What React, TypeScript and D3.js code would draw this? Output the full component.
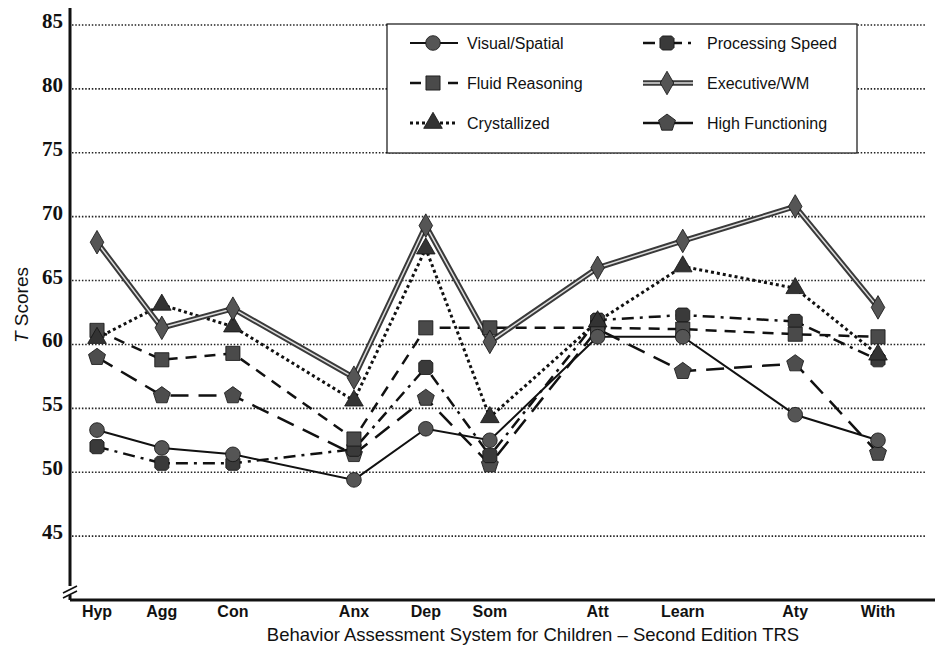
import * as d3 from 'd3'

const CATEGORIES = ['Hyp', 'Agg', 'Con', 'Anx', 'Dep', 'Som', 'Att', 'Learn', 'Aty', 'With']
// where each scale sits along the axis (0 = first, 100 = last), the spacing is uneven
const CATEGORY_SLOTS = [0, 8.3, 17.4, 32.9, 42.1, 50.3, 64.1, 75.0, 89.4, 100]
const Y_TICKS = [45, 50, 55, 60, 65, 70, 75, 80, 85]

const VISUAL_SPATIAL = [53.3, 51.9, 51.4, 49.4, 53.4, 52.5, 60.6, 60.6, 54.5, 52.5]
const FLUID_REASONING = [61.1, 58.8, 59.3, 52.6, 61.3, 61.3, 61.3, 61.2, 60.8, 60.6]
const CRYSTALLIZED = [60.5, 63.1, 61.4, 55.6, 67.5, 54.3, 61.8, 66.1, 64.4, 59.2]
const PROCESSING_SPEED = [52.0, 50.7, 50.7, 51.8, 58.2, 51.3, 61.9, 62.3, 61.8, 58.8]
const EXECUTIVE_WM = [68.0, 61.3, 62.8, 57.4, 69.3, 60.2, 66.0, 68.1, 70.8, 62.9]
const HIGH_FUNCTIONING = [59.0, 56.0, 56.0, 51.4, 55.8, 50.6, 61.2, 57.9, 58.5, 51.5]

const symbolPentagon = {
  draw(ctx: any, size: number) {
    const r = Math.sqrt(size / 2.378)
    for (let i = 0; i < 5; i++) {
      const a = -Math.PI / 2 + (i * 2 * Math.PI) / 5
      const px = r * Math.cos(a)
      const py = r * Math.sin(a)
      if (i === 0) ctx.moveTo(px, py)
      else ctx.lineTo(px, py)
    }
    ctx.closePath()
  },
}

// squarish gear look used for processing speed
const symbolNotched = {
  draw(ctx: any, size: number) {
    const h = Math.sqrt(size) / 2
    const c = h * 0.35
    ctx.moveTo(-h + c, -h)
    ctx.lineTo(h - c, -h)
    ctx.lineTo(h, -h + c)
    ctx.lineTo(h, h - c)
    ctx.lineTo(h - c, h)
    ctx.lineTo(-h + c, h)
    ctx.lineTo(-h, h - c)
    ctx.lineTo(-h, -h + c)
    ctx.closePath()
  },
}

type Series = {
  name: string
  values: number[]
  symbol: any
  size: number
  fill: string
  dash: string | null
  width: number
  double?: boolean
  legendSolid?: boolean
}

const SERIES: Series[] = [
  { name: 'Visual/Spatial', values: VISUAL_SPATIAL, symbol: d3.symbolCircle, size: 170, fill: '#555', dash: null, width: 2 },
  { name: 'Fluid Reasoning', values: FLUID_REASONING, symbol: d3.symbolSquare, size: 200, fill: '#4a4a4a', dash: '11 8', width: 2.5 },
  { name: 'Crystallized', values: CRYSTALLIZED, symbol: d3.symbolTriangle, size: 150, fill: '#333', dash: '3 3', width: 3 },
  { name: 'Processing Speed', values: PROCESSING_SPEED, symbol: symbolNotched, size: 200, fill: '#3a3a3a', dash: '12 6 3 6', width: 2.5 },
  { name: 'Executive/WM', values: EXECUTIVE_WM, symbol: d3.symbolDiamond, size: 160, fill: '#555', dash: null, width: 5.5, double: true },
  { name: 'High Functioning', values: HIGH_FUNCTIONING, symbol: symbolPentagon, size: 190, fill: '#4d4d4d', dash: '18 10', width: 2.5, legendSolid: true },
]

// draw order: dashed lines underneath, double line on top
const DRAW_ORDER = [5, 3, 1, 2, 0, 4]

export default function App() {
  const width = 935
  const height = 647
  const axisX = 70
  const axisY = 600

  const x = d3.scaleLinear().domain([0, 100]).range([97, 878])
  const y = d3.scaleLinear().domain([40, 85]).range([600, 25])

  const line = d3
    .line<number>()
    .x((_, i) => x(CATEGORY_SLOTS[i]))
    .y((d) => y(d))

  const marker = (s: Series) => d3.symbol().type(s.symbol).size(s.size)()!

  const legendRows = [43, 83, 123]
  const legendCols = [
    { x1: 410, x2: 458, mx: 433, tx: 467 },
    { x1: 643, x2: 693, mx: 667, tx: 707 },
  ]

  const sampleLine = (s: Series, x1: number, x2: number, yy: number) => {
    if (s.double) {
      return (
        <g>
          <line x1={x1} x2={x2} y1={yy} y2={yy} stroke='#3a3a3a' strokeWidth={5.5} />
          <line x1={x1} x2={x2} y1={yy} y2={yy} stroke='#ddd' strokeWidth={1.5} />
        </g>
      )
    }
    return (
      <line
        x1={x1}
        x2={x2}
        y1={yy}
        y2={yy}
        stroke='#111'
        strokeWidth={s.width}
        strokeDasharray={s.legendSolid ? undefined : s.dash ?? undefined}
      />
    )
  }

  return (
    <svg
      width={width}
      height={height}
      style={{ position: 'absolute', left: 0, top: 0, background: '#fff' }}
      fontFamily='Liberation Sans, Arial, sans-serif'
    >
      <rect width={width} height={height} fill='#fff' />

      {/* grid */}
      {Y_TICKS.map((t) => (
        <g key={t}>
          <line
            x1={axisX + 2}
            x2={925}
            y1={y(t)}
            y2={y(t)}
            stroke='#222'
            strokeWidth={1.6}
            strokeDasharray='1.5 1.8'
          />
          <text
            x={63}
            y={y(t) + 3}
            textAnchor='end'
            fontFamily='Liberation Serif, Times New Roman, serif'
            fontWeight='bold'
            fontSize={21}
            fill='#111'
          >
            {t}
          </text>
        </g>
      ))}

      {/* axes */}
      <line x1={axisX} x2={axisX} y1={8} y2={axisY} stroke='#111' strokeWidth={3} />
      <line x1={axisX} x2={935} y1={axisY} y2={axisY} stroke='#111' strokeWidth={3} />
      {/* axis break */}
      <rect x={66} y={586} width={8} height={9} fill='#fff' />
      <line x1={63} y1={593} x2={77} y2={586} stroke='#111' strokeWidth={1.6} />
      <line x1={63} y1={598} x2={77} y2={591} stroke='#111' strokeWidth={1.6} />

      {/* legend */}
      <rect x={387} y={24} width={470} height={129} fill='#fff' stroke='#111' strokeWidth={1.2} />
      {SERIES.map((s, i) => {
        const col = legendCols[Math.floor(i / 3)]
        const yy = legendRows[i % 3]
        return (
          <g key={s.name}>
            {sampleLine(s, col.x1, col.x2, yy)}
            <path
              d={marker(s)}
              transform={`translate(${col.mx},${yy})`}
              fill={s.fill}
              stroke='#111'
              strokeWidth={0.8}
            />
            <text x={col.tx} y={yy + 5.5} fontSize={16} fill='#111'>
              {s.name}
            </text>
          </g>
        )
      })}

      {/* lines */}
      {DRAW_ORDER.map((k) => {
        const s = SERIES[k]
        const d = line(s.values)!
        if (s.double) {
          return (
            <g key={s.name}>
              <path d={d} fill='none' stroke='#3a3a3a' strokeWidth={5.5} strokeLinejoin='round' />
              <path d={d} fill='none' stroke='#ddd' strokeWidth={1.5} strokeLinejoin='round' />
            </g>
          )
        }
        return (
          <path
            key={s.name}
            d={d}
            fill='none'
            stroke='#111'
            strokeWidth={s.width}
            strokeDasharray={s.dash ?? undefined}
          />
        )
      })}

      {/* markers */}
      {DRAW_ORDER.map((k) => {
        const s = SERIES[k]
        return (
          <g key={s.name}>
            {s.values.map((v, i) => (
              <path
                key={i}
                d={marker(s)}
                transform={`translate(${x(CATEGORY_SLOTS[i])},${y(v)})`}
                fill={s.fill}
                stroke='#111'
                strokeWidth={0.8}
              />
            ))}
          </g>
        )
      })}

      {/* x tick labels */}
      {CATEGORIES.map((c, i) => (
        <text
          key={c}
          x={x(CATEGORY_SLOTS[i])}
          y={617}
          textAnchor='middle'
          fontWeight='bold'
          fontSize={16}
          fill='#111'
        >
          {c}
        </text>
      ))}

      <text x={533} y={641} textAnchor='middle' fontSize={18.5} fill='#111'>
        Behavior Assessment System for Children – Second Edition TRS
      </text>

      <text transform='translate(28,305) rotate(-90)' textAnchor='middle' fontSize={19} fill='#111'>
        <tspan fontStyle='italic'>T</tspan> Scores
      </text>
    </svg>
  )
}
